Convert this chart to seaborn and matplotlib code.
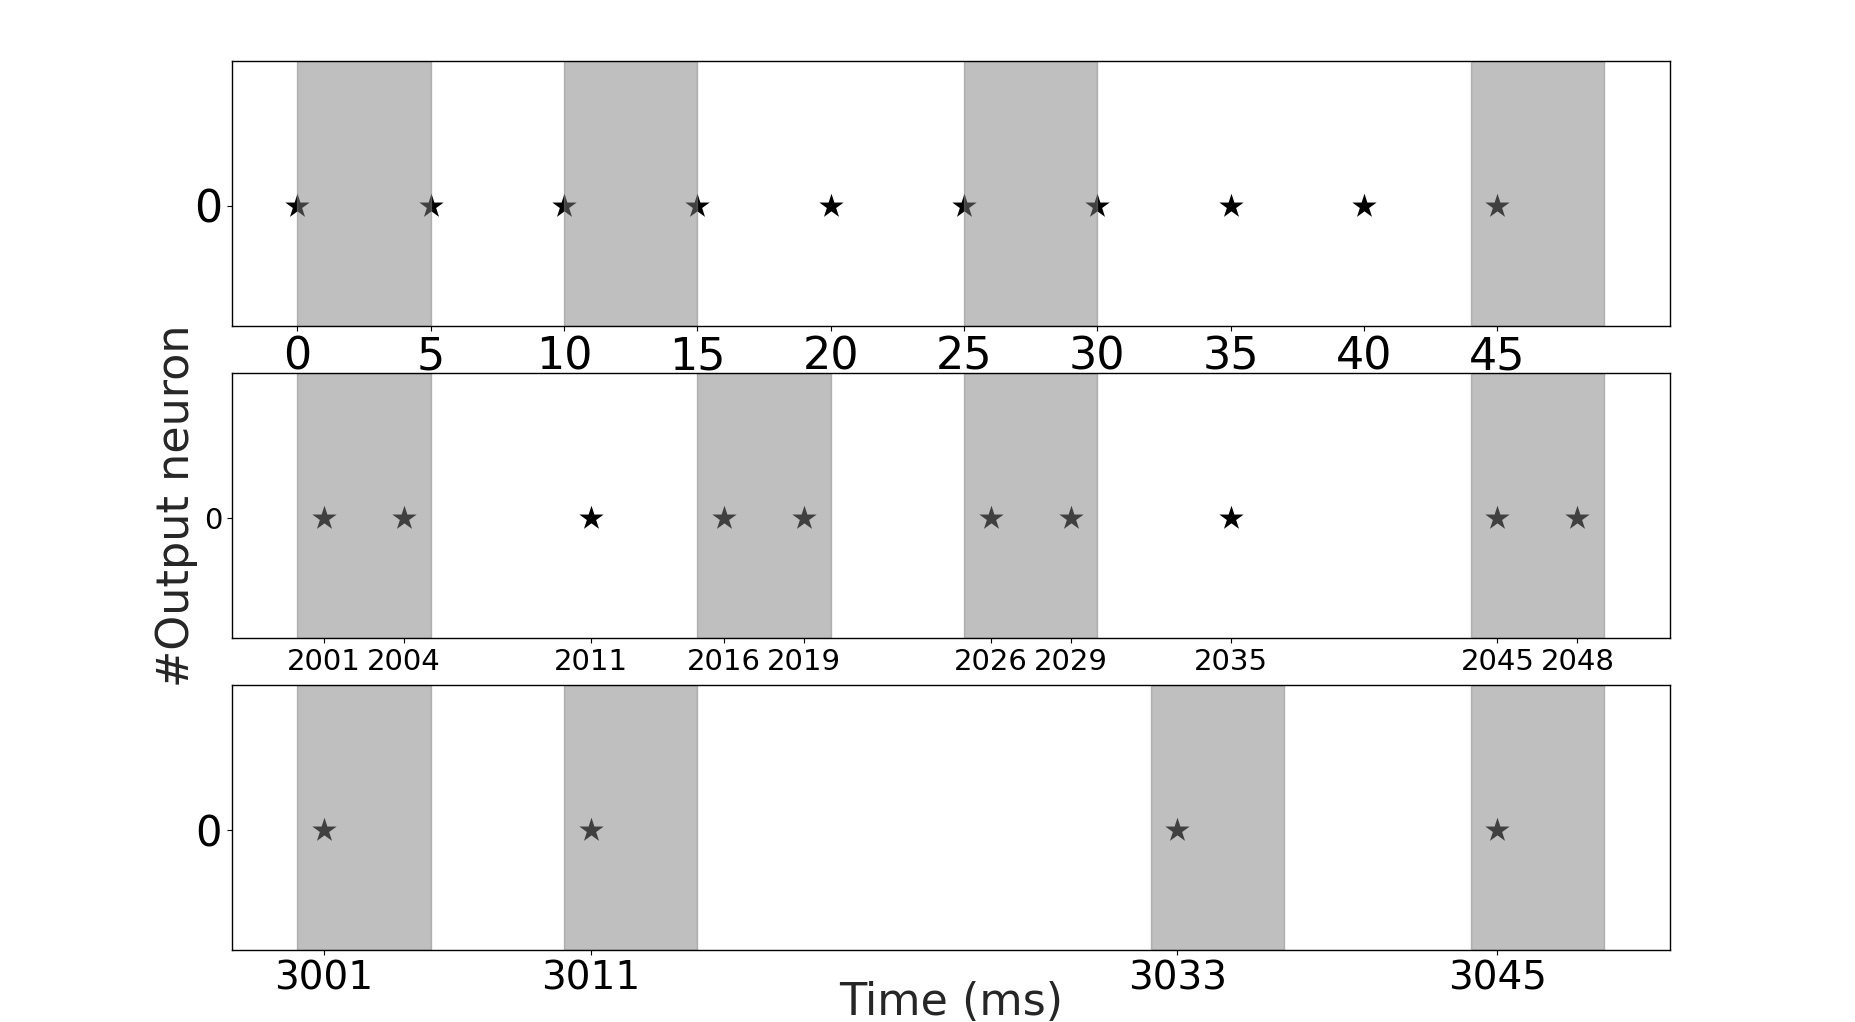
import numpy as np
import pandas as pd
import matplotlib
matplotlib.use("Agg")
import matplotlib.pyplot as plt
import seaborn as sns

# ---- data ----
top_times = [0, 5, 10, 15, 20, 25, 30, 35, 40, 45]
top_windows = [0, 10, 25, 44]
mid_times = [2001, 2004, 2011, 2016, 2019, 2026, 2029, 2035, 2045, 2048]
mid_windows = [2000, 2015, 2025, 2044]
bot_times = [3001, 3011, 3033, 3045]
bot_windows = [3000, 3010, 3032, 3044]
window_len = 5
neuron_ids = [0]

sns.set_style("ticks")
plt.rcParams["font.family"] = ["DejaVu Sans"]
plt.rcParams["axes.edgecolor"] = "black"
plt.rcParams["xtick.color"] = "black"
plt.rcParams["ytick.color"] = "black"

fig, axes = plt.subplots(3, 1, figsize=(18.55, 10.22), dpi=100)
fig.subplots_adjust(left=0.125, right=0.9, top=0.94, bottom=0.0705, hspace=0.18)

panels = [
    (top_times, top_windows, 32, 32),
    (mid_times, mid_windows, 21, 21),
    (bot_times, bot_windows, 28, 30),
]

for ax, (times, wins, fsx, fsy) in zip(axes, panels):
    df = pd.DataFrame({"t": times, "n": [neuron_ids[0]] * len(times)})
    sns.scatterplot(data=df, x="t", y="n", marker="*", s=340, color="black",
                    linewidth=0, ax=ax, zorder=1, legend=False)
    for w in wins:
        ax.axvspan(w, w + window_len, color="grey", alpha=0.5, zorder=2)
    ax.set_xticks(times)
    ax.set_xticklabels([str(t) for t in times], fontsize=fsx)
    ax.set_yticks(neuron_ids)
    ax.set_yticklabels([str(n) for n in neuron_ids], fontsize=fsy)
    ax.set_xlabel("")
    ax.set_ylabel("")
    ax.set_ylim(-0.5, 0.6)
    for sp in ax.spines.values():
        sp.set_visible(True)
        sp.set_linewidth(1.0)

axes[1].set_ylabel("#Output neuron", fontsize=32)
axes[2].set_xlabel("Time (ms)", fontsize=32, labelpad=-12)

fig.savefig("out.png", dpi=100)
